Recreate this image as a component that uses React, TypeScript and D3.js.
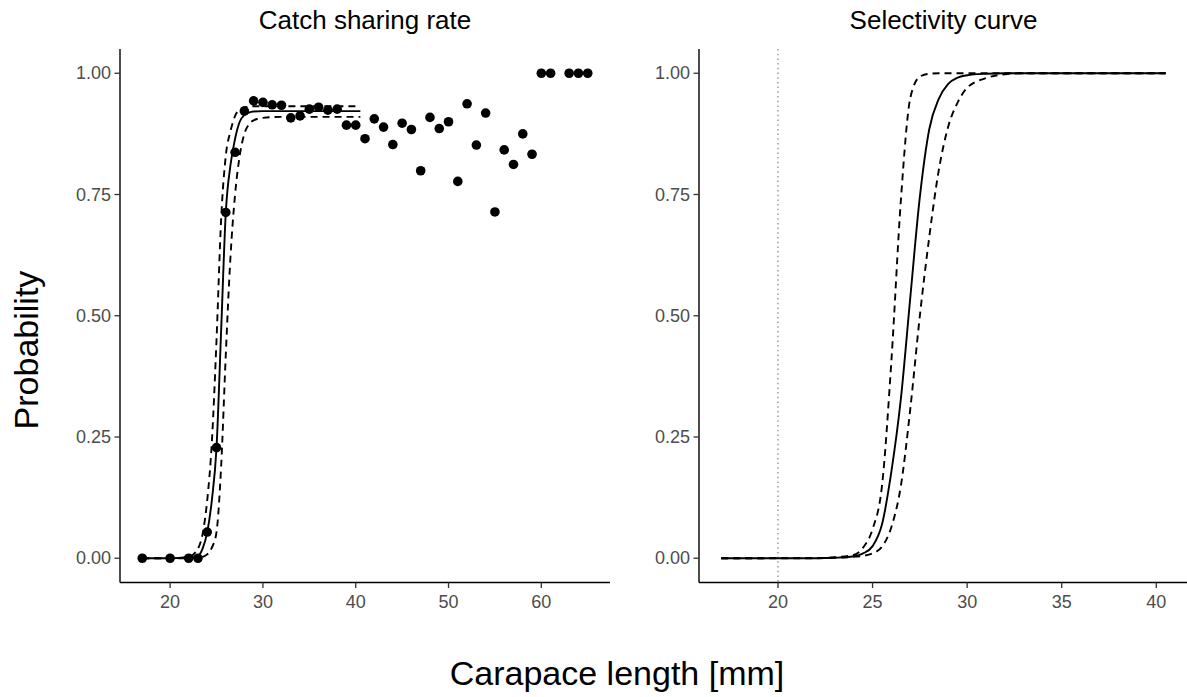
import React from "react";
import * as d3 from "d3";

// observed catch sharing rate by carapace length
const catchLen = [17, 20, 22, 23, 24, 25, 26, 27, 28, 29, 30, 31, 32, 33, 34, 35, 36, 37, 38, 39, 40, 41, 42, 43, 44, 45, 46, 47, 48, 49, 50, 51, 52, 53, 54, 55, 56, 57, 58, 59, 60, 61, 63, 64, 65];
const catchRate = [0, 0, 0, 0, 0.054, 0.228, 0.713, 0.837, 0.922, 0.943, 0.94, 0.935, 0.934, 0.908, 0.912, 0.926, 0.93, 0.924, 0.926, 0.893, 0.893, 0.865, 0.906, 0.889, 0.853, 0.897, 0.884, 0.799, 0.909, 0.886, 0.9, 0.777, 0.937, 0.852, 0.918, 0.714, 0.842, 0.812, 0.875, 0.833, 1, 1, 1, 1, 1];

// fitted catch sharing curve + confidence band
const fitLen = [17, 20, 22, 23, 23.5, 24, 24.5, 25, 25.5, 26, 26.5, 27, 27.5, 28, 28.5, 29, 30, 32, 35, 40.5];
const fitMid = [0, 0, 0.001, 0.005, 0.02, 0.054, 0.12, 0.228, 0.47, 0.713, 0.81, 0.865, 0.9, 0.914, 0.919, 0.921, 0.922, 0.922, 0.922, 0.922];
const fitUpper = [0, 0, 0.003, 0.02, 0.05, 0.12, 0.24, 0.45, 0.7, 0.83, 0.88, 0.912, 0.925, 0.93, 0.931, 0.932, 0.932, 0.932, 0.932, 0.932];
const fitLower = [0, 0, 0, 0.001, 0.003, 0.008, 0.022, 0.054, 0.19, 0.42, 0.62, 0.75, 0.83, 0.875, 0.895, 0.903, 0.908, 0.91, 0.91, 0.91];

// selectivity curve + confidence band
const selLen = [17, 22, 23, 24, 24.5, 25, 25.5, 26, 26.5, 27, 27.5, 28, 28.5, 29, 29.5, 30, 31, 32, 33, 40.5];
const selMid = [0, 0, 0.001, 0.004, 0.01, 0.025, 0.07, 0.18, 0.33, 0.54, 0.745, 0.885, 0.947, 0.978, 0.991, 0.996, 0.999, 1, 1, 1];
const selUpper = [0, 0.0005, 0.002, 0.007, 0.022, 0.06, 0.15, 0.41, 0.74, 0.95, 0.993, 0.999, 1, 1, 1, 1, 1, 1, 1, 1];
const selLower = [0, 0, 0.001, 0.003, 0.005, 0.01, 0.024, 0.065, 0.15, 0.31, 0.5, 0.663, 0.8, 0.89, 0.94, 0.97, 0.99, 0.998, 1, 1];

const yTicks = [0, 0.25, 0.5, 0.75, 1];
const catchTicks = [20, 30, 40, 50, 60];
const selTicks = [20, 25, 30, 35, 40];
const minLegal = 20;

const W = 1187;
const H = 697;
const FONT = "Liberation Sans, Arial, Helvetica, sans-serif";
const LW = 1.9;
const DASH = "7,5";

const y = d3.scaleLinear().domain([-0.05, 1.05]).range([582.5, 49]);

const Panel = ({ x, ticks, title, children }) => {
  const [x0, x1] = x.range();
  const yb = y.range()[0];
  return (
    <g>
      <text x={(x0 + x1) / 2} y={29} textAnchor="middle" fontSize="26" fill="#000">{title}</text>
      {children}
      <line x1={x0} x2={x0} y1={y.range()[1]} y2={yb} stroke="#000" strokeWidth={1.4} />
      <line x1={x0} x2={x1} y1={yb} y2={yb} stroke="#000" strokeWidth={1.4} />
      {yTicks.map((t) => (
        <g key={"y" + t}>
          <line x1={x0 - 5.5} x2={x0} y1={y(t)} y2={y(t)} stroke="#333" strokeWidth={1.3} />
          <text x={x0 - 9} y={y(t)} textAnchor="end" dominantBaseline="central" fontSize="18" fill="#4d4d4d">
            {t.toFixed(2)}
          </text>
        </g>
      ))}
      {ticks.map((t) => (
        <g key={"x" + t}>
          <line x1={x(t)} x2={x(t)} y1={yb} y2={yb + 5.5} stroke="#333" strokeWidth={1.3} />
          <text x={x(t)} y={608} textAnchor="middle" fontSize="18" fill="#4d4d4d">{t}</text>
        </g>
      ))}
    </g>
  );
};

export default function App() {
  const xL = d3.scaleLinear().domain([14.6, 67.4]).range([120, 610]);
  const xR = d3.scaleLinear().domain([15.825, 41.675]).range([699, 1188]);

  const lineL = d3.line<number>().x((d, i) => xL(fitLen[i])).y((d) => y(d)).curve(d3.curveMonotoneX);
  const lineR = d3.line<number>().x((d, i) => xR(selLen[i])).y((d) => y(d)).curve(d3.curveMonotoneX);

  return (
    <div style={{ position: "absolute", left: 0, top: 0 }}>
      <svg width={W} height={H} style={{ display: "block", fontFamily: FONT, background: "#fff" }}>
        <Panel x={xL} ticks={catchTicks} title="Catch sharing rate">
          <path d={lineL(fitUpper)} fill="none" stroke="#000" strokeWidth={LW} strokeDasharray={DASH} />
          <path d={lineL(fitLower)} fill="none" stroke="#000" strokeWidth={LW} strokeDasharray={DASH} />
          <path d={lineL(fitMid)} fill="none" stroke="#000" strokeWidth={LW} />
          {catchLen.map((l, i) => (
            <circle key={i} cx={xL(l)} cy={y(catchRate[i])} r={4.8} fill="#000" />
          ))}
        </Panel>
        <Panel x={xR} ticks={selTicks} title="Selectivity curve">
          <line x1={xR(minLegal)} x2={xR(minLegal)} y1={y.range()[1]} y2={y.range()[0]} stroke="#9a9a9a" strokeWidth={1.5} strokeDasharray="1.5,3.2" />
          <path d={lineR(selUpper)} fill="none" stroke="#000" strokeWidth={LW} strokeDasharray={DASH} />
          <path d={lineR(selLower)} fill="none" stroke="#000" strokeWidth={LW} strokeDasharray={DASH} />
          <path d={lineR(selMid)} fill="none" stroke="#000" strokeWidth={LW} />
        </Panel>
        <text transform="translate(38, 350) rotate(-90)" textAnchor="middle" fontSize="34" fill="#000">
          Probability
        </text>
        <text x={617} y={685} textAnchor="middle" fontSize="34" fill="#000">Carapace length [mm]</text>
      </svg>
    </div>
  );
}
